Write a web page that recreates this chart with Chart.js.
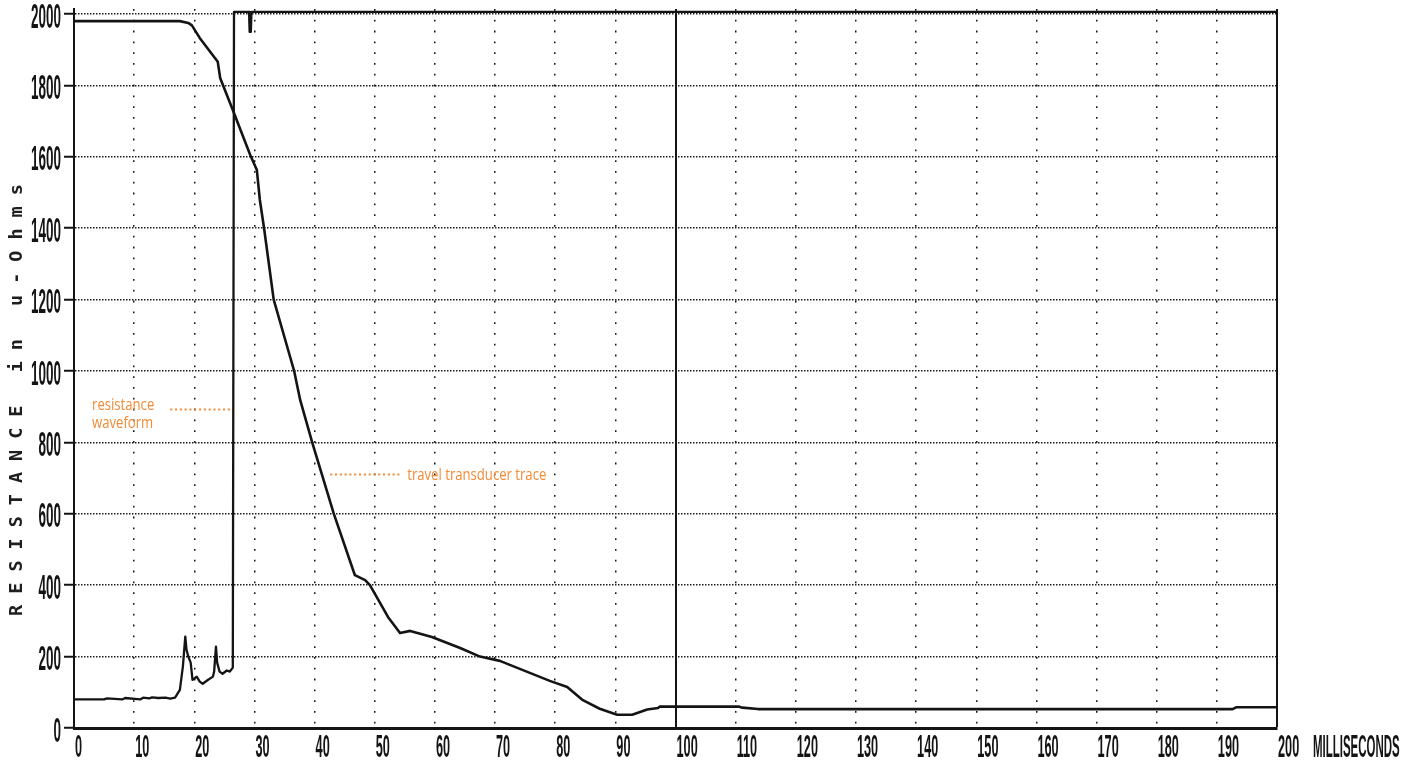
<!DOCTYPE html>
<html>
<head>
<meta charset="utf-8">
<script src="https://cdn.jsdelivr.net/npm/chart.js@4.4.1/dist/chart.umd.min.js"></script>
<style>
  html, body { margin: 0; padding: 0; background: #ffffff; }
  #wrap { width: 1416px; height: 763px; }
</style>
</head>
<body>
<div id="wrap"><canvas id="c" width="1416" height="763"></canvas></div>
<script>
// ---------------- data ----------------
const xTicks = [0,10,20,30,40,50,60,70,80,90,100,110,120,130,140,150,160,170,180,190,200];
const yTicks = [0,200,400,600,800,1000,1200,1400,1600,1800,2000];

// travel transducer trace (ms, value)
const travelMs  = [0,17.6,19.0,19.6,20.9,23.9,24.3,26.4,29.3,30.4,
                   30.9,31.6,33.2,36.6,37.6,39.6,43.2,46.7,48.4,49.2,
                   52.2,54.2,55.9,59.5,64.2,67.5,70.8,79.1,82.0,84.6,
                   87.4,90.3,92.8,95.3,97.1,97.4,110.5,111.1,113.7,192.6,
                   193.2,200];
const travelVal = [1980,1980,1975,1968,1933,1866,1821,1731,1605,1563,
                   1479,1400,1200,1000,919,800,600,428,414,400,
                   311,266,272,255,224,200,188,132,115,78,
                   54,37,37,52,56,60,60,57,53,53,
                   58,58];

// resistance waveform (ms, value) - goes off-scale at contact part
const resistMs  = [0,5,5.5,8,8.5,11,11.5,12.5,13,14,
                   15.2,16.0,16.8,17.6,18.1,18.5,18.7,19.0,19.4,19.7,
                   20.4,20.9,21.4,22.3,23.1,23.3,23.6,23.8,24.2,24.7,
                   25.4,25.9,26.4,26.6,29.1,29.2,29.4,29.5,200];
const resistVal = [80,80,83,80,84,80,85,83,86,84,
                   85,82,85,107,172,256,220,200,183,135,
                   144,130,124,135,144,158,228,183,158,152,
                   161,158,169,2006,2006,1950,1950,2006,2006];

const yTitle = 'RESISTANCE in u-Ohms';
const xUnit = 'MILLISECONDS';
const notes = [
  { lines: ['resistance', 'waveform'], textMs: 3.0, fromMs: 16.0, toMs: 26.3, atVal: 893, baseDy: 1 },
  { lines: ['travel transducer trace'], textMs: 55.4, fromMs: 42.6, toMs: 54.5, atVal: 711, baseDy: 6 }
];

// ---------------- styling ----------------
const INK = '#141414';
const ORANGE = '#f28a36';
const CONDENSE = { x: 0.41, y: 0.385 };
const TITLE_SHIFT = 26;
const LABEL_FONT = 'Liberation Sans';

class PlotterScale extends Chart.LinearScale {
  drawLabels(chartArea) {
    const ctx = this.ctx;
    const sx = CONDENSE[this.id] || 1;
    const orig = Object.getPrototypeOf(ctx).fillText;
    ctx.fillText = function (text, x, y) {
      this.save();
      this.translate(x, y);
      this.scale(sx, 1);
      orig.call(this, text, 0, 0);
      this.restore();
    };
    try { super.drawLabels(chartArea); } finally { delete ctx.fillText; }
  }
  drawTitle() {
    const ctx = this.ctx;
    ctx.save();
    ctx.translate(0, TITLE_SHIFT);
    try { ctx.letterSpacing = '11px'; } catch (e) {}
    super.drawTitle();
    ctx.restore();
  }
}
PlotterScale.id = 'plotter';
PlotterScale.defaults = Chart.LinearScale.defaults;
Chart.register(PlotterScale);

const toPts = (xs, ys) => xs.map((v, i) => ({ x: v, y: ys[i] }));

const annot = {
  id: 'annot',
  afterDraw(chart) {
    const { ctx } = chart;
    const x = chart.scales.x, y = chart.scales.y;
    ctx.save();
    // leaders
    ctx.strokeStyle = ORANGE;
    ctx.lineWidth = 2;
    ctx.setLineDash([2, 2.8]);
    notes.forEach(n => {
      const yy = Math.round(y.getPixelForValue(n.atVal)) + 0.5;
      ctx.beginPath();
      ctx.moveTo(x.getPixelForValue(n.fromMs), yy);
      ctx.lineTo(x.getPixelForValue(n.toMs), yy);
      ctx.stroke();
    });
    ctx.setLineDash([]);
    // texts
    ctx.fillStyle = ORANGE;
    ctx.font = '16px "Open Sans"';
    ctx.textAlign = 'left';
    ctx.textBaseline = 'alphabetic';
    notes.forEach(n => {
      const tx = x.getPixelForValue(n.textMs);
      const ty = y.getPixelForValue(n.atVal) + n.baseDy;
      n.lines.forEach((line, i) => {
        ctx.save();
        ctx.translate(tx, ty + i * 18);
        ctx.scale(0.82, 1);
        ctx.fillText(line, 0, 0);
        ctx.restore();
      });
    });
    // unit label on the x axis line
    ctx.fillStyle = INK;
    ctx.font = 'bold 31px "' + LABEL_FONT + '"';
    ctx.textBaseline = 'middle';
    ctx.save();
    ctx.translate(x.right + 36, x.top + 2 + 31 * 1.2 / 2);
    ctx.scale(0.37, 1);
    ctx.fillText(xUnit, 0, 0);
    ctx.restore();
    ctx.restore();
  }
};

const special = v => v === 100 || v === 200;

new Chart(document.getElementById('c'), {
  type: 'scatter',
  data: {
    datasets: [
      {
        label: 'travel transducer trace',
        data: toPts(travelMs, travelVal),
        showLine: true, borderColor: INK, borderWidth: 2.6,
        pointRadius: 0, tension: 0, borderJoinStyle: 'round', borderCapStyle: 'round'
      },
      {
        label: 'resistance waveform',
        data: toPts(resistMs, resistVal),
        showLine: true, borderColor: INK, borderWidth: 2.3,
        pointRadius: 0, tension: 0, borderJoinStyle: 'round', borderCapStyle: 'round'
      }
    ]
  },
  options: {
    responsive: false,
    animation: false,
    devicePixelRatio: 1,
    layout: { padding: { top: 9, right: 139, bottom: 0, left: 0 } },
    plugins: { legend: { display: false }, tooltip: { enabled: false } },
    scales: {
      x: {
        type: 'plotter',
        min: 0, max: 200,
        afterBuildTicks: s => { s.ticks = xTicks.map(v => ({ value: v })); },
        afterFit: s => { s.height = 35; s.paddingLeft = 0; s.paddingRight = 0; },
        grid: {
          color: INK,
          lineWidth: c => (c.tick && special(c.tick.value)) ? 2 : 1.5,
          drawTicks: false
        },
        border: {
          display: true, color: INK, width: 3,
          dash: c => (c.tick && !special(c.tick.value)) ? [1.8, 9] : []
        },
        ticks: {
          align: 'start', padding: 2, labelOffset: 1, color: INK,
          autoSkip: false, maxRotation: 0, minRotation: 0,
          font: { family: LABEL_FONT, weight: 'bold', size: 31 },
          callback: v => String(v)
        }
      },
      y: {
        type: 'plotter',
        min: 0, max: 2014,
        afterBuildTicks: s => { s.ticks = yTicks.map(v => ({ value: v })); },
        afterFit: s => { s.width = 74; s.paddingTop = 0; s.paddingBottom = 0; },
        grid: {
          color: '#1c1c1c', lineWidth: 1.5,
          drawTicks: true, tickLength: 10, tickWidth: 2, tickColor: INK, tickBorderDash: []
        },
        border: {
          display: true, color: INK, width: 2,
          dash: c => (c.tick && c.tick.value !== 0) ? [1.5, 1.5] : []
        },
        ticks: {
          padding: 3, labelOffset: 4, color: INK, autoSkip: false,
          font: { family: LABEL_FONT, weight: 'bold', size: 35 },
          callback: v => String(v)
        },
        title: {
          display: true, text: yTitle, color: '#1e1e1e',
          font: { family: 'DejaVu Sans Mono', weight: 'bold', size: 18.5 },
          padding: { top: 6, bottom: 0 }
        }
      }
    }
  },
  plugins: [annot]
});
</script>
</body>
</html>
